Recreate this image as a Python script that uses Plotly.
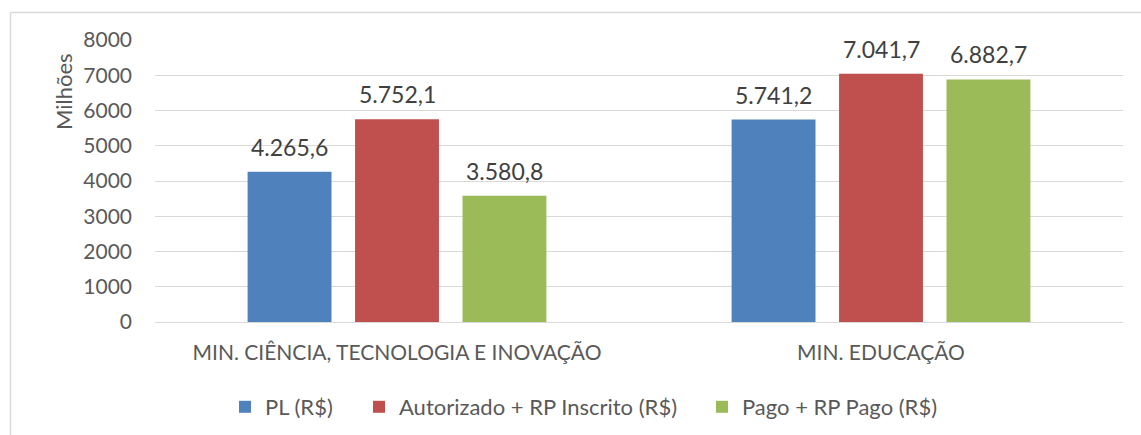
import plotly.graph_objects as go

categories = ["MIN. CIÊNCIA, TECNOLOGIA E INOVAÇÃO", "MIN. EDUCAÇÃO"]
series_names = ["PL (R$)", "Autorizado + RP Inscrito (R$)", "Pago + RP Pago (R$)"]
pl_values = [4265.6, 5741.2]
autorizado_values = [5752.1, 7041.7]
pago_values = [3580.8, 6882.7]
colors = ["#4f81bd", "#c0504d", "#9bbb59"]
y_ticks = [0, 1000, 2000, 3000, 4000, 5000, 6000, 7000, 8000]

FONT = "Lato, sans-serif"
TXT = "#595959"


def br(v):
    s = f"{v:,.1f}"
    return s.replace(",", "X").replace(".", ",").replace("X", ".")


W, H = 1141, 435
L, R, T, B = 155, 18, 40, 113
pw, ph = W - L - R, H - T - B
BARGAP, GROUPGAP = 0.334, 0.219
slot = (pw / len(categories)) * (1 - BARGAP) / 3


def px(x):
    return (x - L) / pw


def py(y):
    return (H - B - y) / ph


legend_ids = ["legend", "legend2", "legend3"]
legend_left = [225, 359, 702]

fig = go.Figure()
annotations = []
all_series = [pl_values, autorizado_values, pago_values]
for i, (name, vals, col) in enumerate(zip(series_names, all_series, colors)):
    fig.add_trace(go.Bar(
        x=categories, y=vals, name=name, marker_color=col,
        marker_line_width=0, legend=legend_ids[i],
    ))
    for c, v in zip(categories, vals):
        annotations.append(dict(
            x=c, y=v, xref="x", yref="y", text=br(v), showarrow=False,
            xshift=(i - 1) * slot, yshift=25, yanchor="middle", xanchor="center",
            font=dict(family=FONT, size=23, color="#404040"),
        ))

annotations.append(dict(text="Milhões", textangle=-90, xref="paper", yref="paper",
                        x=px(63), y=py(92), showarrow=False,
                        xanchor="center", yanchor="middle",
                        font=dict(family=FONT, size=22, color=TXT)))

legend_style = dict(orientation="h", xanchor="left", y=py(407), yanchor="middle",
                    font=dict(family=FONT, size=22, color=TXT), bgcolor="rgba(0,0,0,0)")

fig.update_layout(
    width=W, height=H,
    margin=dict(l=L, r=R, t=T, b=B, autoexpand=False),
    paper_bgcolor="white", plot_bgcolor="white",
    barmode="group", bargap=BARGAP, bargroupgap=GROUPGAP,
    font=dict(family=FONT, size=20, color=TXT),
    showlegend=True,
    legend=dict(x=px(legend_left[0]), **legend_style),
    legend2=dict(x=px(legend_left[1]), **legend_style),
    legend3=dict(x=px(legend_left[2]), **legend_style),
    xaxis=dict(showgrid=False, showline=False, ticks="", ticklabelstandoff=16,
               tickfont=dict(family=FONT, size=21, color=TXT)),
    yaxis=dict(range=[0, 8000], tickvals=y_ticks, showgrid=True, gridcolor="#d9d9d9",
               gridwidth=1, zeroline=True, zerolinecolor="#d9d9d9", zerolinewidth=1,
               showline=False, ticks="", ticklabelstandoff=22,
               tickfont=dict(family=FONT, size=21, color=TXT)),
    annotations=annotations,
    shapes=[
        dict(type="line", xref="paper", yref="paper", x0=px(10.5), x1=px(1150),
             y0=py(12.5), y1=py(12.5), line=dict(color="#d9d9d9", width=1.5)),
        dict(type="line", xref="paper", yref="paper", x0=px(10.5), x1=px(10.5),
             y0=py(12.5), y1=py(440), line=dict(color="#d9d9d9", width=1.5)),
    ],
)

fig.write_html("out.html", config={"displayModeBar": False})

# remove the browser's default page margin so the figure sits at (0, 0)
with open("out.html", "r", encoding="utf-8") as f:
    html = f.read()
html = html.replace("<head>", "<head><style>html,body{margin:0;padding:0;overflow:hidden;}</style>", 1)
with open("out.html", "w", encoding="utf-8") as f:
    f.write(html)
